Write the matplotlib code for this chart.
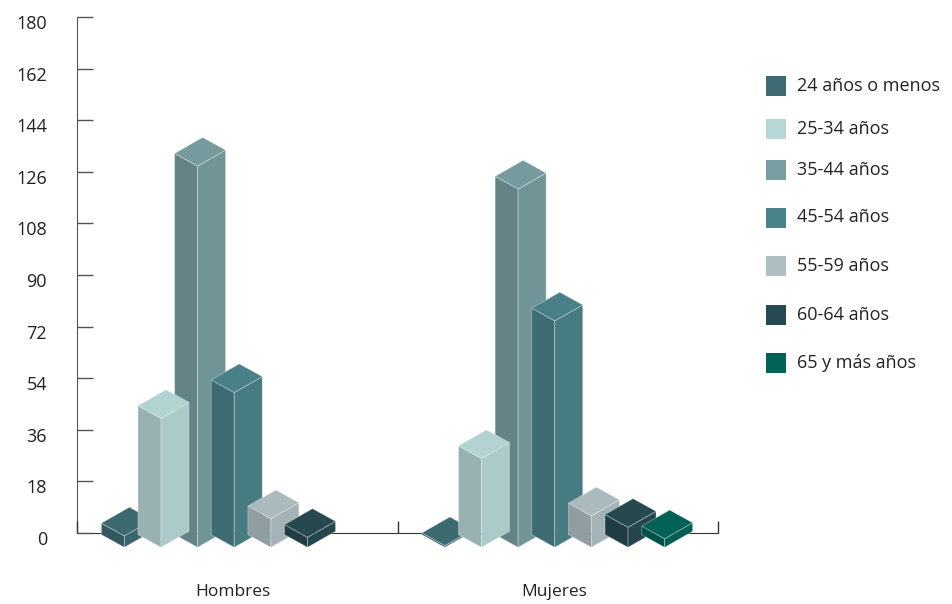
import numpy as np
import matplotlib
matplotlib.use("Agg")
from matplotlib import pyplot as plt
from matplotlib.patches import Polygon, Rectangle
from matplotlib.transforms import ScaledTranslation

plt.rcParams['font.family'] = ['Open Sans', 'DejaVu Sans']

# data
grupos = ['Hombres', 'Mujeres']
edades = ['24 años o menos', '25-34 años', '35-44 años', '45-54 años',
          '55-59 años', '60-64 años', '65 y más años']
hombres = [4, 45, 133, 54, 10, 3.5, 0]
mujeres = [0.6, 31, 125, 79, 11, 7, 3]
colores = ['#3e6b73', '#b7d7d7', '#789ea1', '#4a838a', '#aebec3', '#274a52', '#006356']
yticks = np.arange(0, 181, 18)

W, H = 952, 604
x0, x1 = 77, 718      # axes in pixels
ytop, ybot = 17, 533

fig = plt.figure(figsize=(W / 100, H / 100), dpi=100)
ax = fig.add_axes([x0 / W, 1 - ybot / H, (x1 - x0) / W, (ybot - ytop) / H])
ax.set_xlim(0, 2)
ax.set_ylim(0, 180)

# pixels -> data units
sx = 2 / (x1 - x0)
sy = 180 / (ybot - ytop)

# isometric box geometry (pixels, y up)
L = np.array([-23 * sx, 12.7 * sy])
R = np.array([28 * sx, 16 * sy])


def shade(c, k):
    rgb = np.array(matplotlib.colors.to_rgb(c))
    return tuple(np.clip(rgb * k, 0, 1))


def box(cx, v, c):
    if v <= 0:
        return
    front = np.array([cx, 0]) - (L + R) / 2
    up = np.array([0, v])
    edge = dict(edgecolor=(1, 1, 1, 0.35), linewidth=0.6, clip_on=False)
    left = [front, front + L, front + L + up, front + up]
    right = [front, front + R, front + R + up, front + up]
    top = [front + up, front + L + up, front + L + R + up, front + R + up]
    ax.add_patch(Polygon(left, closed=True, facecolor=shade(c, 0.83), **edge))
    ax.add_patch(Polygon(right, closed=True, facecolor=shade(c, 0.94), **edge))
    ax.add_patch(Polygon(top, closed=True, facecolor=shade(c, 0.98), **edge))


step = 0.8 / len(edades)
orden = [2, 0, 1, 3, 4, 5, 6]   # 35-44 sits behind its neighbours
for g, vals in enumerate([hombres, mujeres]):
    centro = g + 0.5
    for i in orden:
        box(centro + (i - 3) * step - 0.5 * sx, vals[i], colores[i])

# axes styling
for s in ['top', 'right']:
    ax.spines[s].set_visible(False)
ax.spines['left'].set_color('#555555')
ax.spines['bottom'].set_color('#333333')
ax.spines['left'].set_zorder(0)
ax.spines['bottom'].set_zorder(0)
ax.set_yticks(yticks)
ax.set_yticklabels([str(t) for t in yticks])
ax.tick_params(axis='y', direction='in', length=11.5, width=1, color='#555555',
               pad=21.6, labelsize=13, labelcolor='#222222')
ax.set_xticks([0, 1, 2])
ax.set_xticklabels([])
ax.tick_params(axis='x', direction='in', length=8.6, width=1, color='#333333')
off = ScaledTranslation(0, -5 / 100, fig.dpi_scale_trans)
for lab in ax.get_yticklabels():
    lab.set_transform(lab.get_transform() + off)

for g, nombre in enumerate(grupos):
    ax.text(g + 0.5 - 4 * sx, -59 * sy, nombre, ha='center', va='center',
            fontsize=12.5, color='#222222', clip_on=False)

# legend
filas = [86, 129, 170, 217.5, 266, 315, 362.5]
for yc, lab, c in zip(filas, edades, colores):
    fig.add_artist(Rectangle((766 / W, 1 - (yc + 10) / H), 20 / W, 20 / H,
                             transform=fig.transFigure, facecolor=c, edgecolor='none'))
    fig.text(797 / W, 1 - yc / H, lab, ha='left', va='center',
             fontsize=13, color='#222222')

fig.savefig('out.png', dpi=100)
